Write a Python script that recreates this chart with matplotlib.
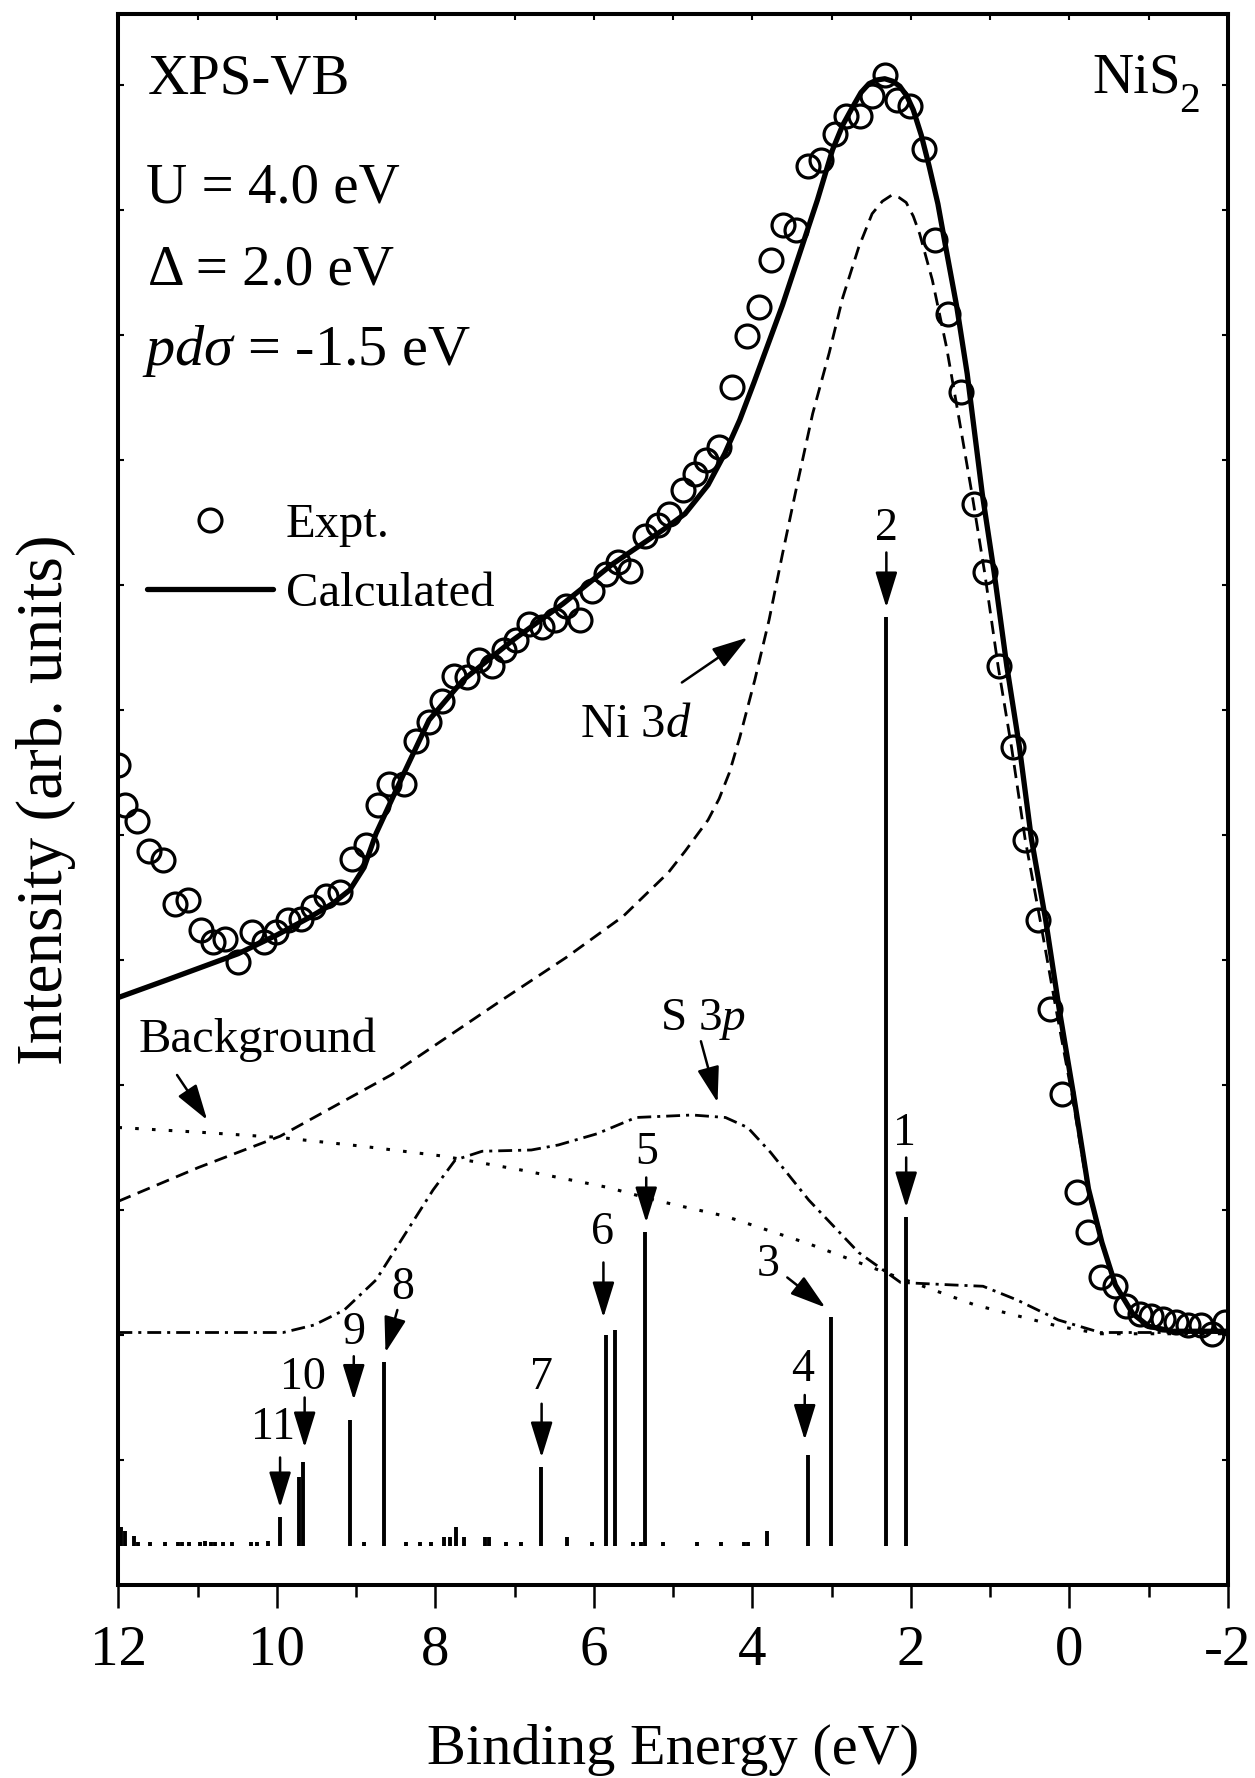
import matplotlib
matplotlib.use("Agg")
import matplotlib.pyplot as plt

plt.rcParams.update({
    "font.family": ["Liberation Serif", "DejaVu Serif"],
    "mathtext.fontset": "custom",
    "mathtext.rm": "Liberation Serif",
    "mathtext.it": "Liberation Serif:italic",
    "mathtext.bf": "Liberation Serif:bold",
    "axes.unicode_minus": False,
    "lines.scale_dashes": False,
})

# ---------------- data ----------------
# measured XPS valence-band spectrum (binding energy in eV, intensity in arb. units)
expt_energy = [12.01, 11.92, 11.76, 11.61, 11.44, 11.29, 11.12, 10.96, 10.81, 10.65,
               10.49, 10.32, 10.16, 10.01, 9.86, 9.69, 9.55, 9.38, 9.21, 9.05,
               8.88, 8.72, 8.58, 8.40, 8.25, 8.08, 7.92, 7.76, 7.60, 7.45,
               7.28, 7.13, 6.98, 6.82, 6.65, 6.49, 6.35, 6.17, 6.02, 5.85,
               5.70, 5.55, 5.36, 5.19, 5.05, 4.87, 4.73, 4.59, 4.42, 4.26,
               4.07, 3.92, 3.76, 3.62, 3.45, 3.30, 3.13, 2.96, 2.82, 2.64,
               2.49, 2.33, 2.17, 2.01, 1.84, 1.69, 1.53, 1.37, 1.21, 1.06,
               0.89, 0.71, 0.56, 0.40, 0.24, 0.09, -0.09, -0.23, -0.40, -0.57,
               -0.72, -0.89, -1.03, -1.18, -1.35, -1.49, -1.66, -1.80, -1.96]
expt_intensity = [6.56, 6.24, 6.11, 5.87, 5.80, 5.45, 5.48, 5.24, 5.14, 5.17,
                  4.98, 5.22, 5.14, 5.22, 5.32, 5.33, 5.42, 5.51, 5.54, 5.81,
                  5.92, 6.24, 6.41, 6.41, 6.75, 6.90, 7.07, 7.27, 7.26, 7.40,
                  7.35, 7.48, 7.56, 7.69, 7.66, 7.72, 7.83, 7.72, 7.95, 8.09,
                  8.18, 8.11, 8.39, 8.48, 8.57, 8.76, 8.89, 9.00, 9.10, 9.58,
                  9.99, 10.22, 10.60, 10.88, 10.84, 11.35, 11.40, 11.61, 11.75, 11.75,
                  11.91, 12.08, 11.88, 11.83, 11.49, 10.76, 10.17, 9.54, 8.65, 8.10,
                  7.35, 6.70, 5.96, 5.32, 4.61, 3.93, 3.14, 2.82, 2.46, 2.39,
                  2.23, 2.17, 2.15, 2.13, 2.10, 2.08, 2.08, 2.01, 2.10]

# calculated total spectrum
calc_energy = [12.00, 11.39, 10.49, 10.00, 9.59, 9.30, 9.08, 8.90, 8.75, 8.40,
               8.08, 7.65, 7.02, 6.39, 5.76, 5.13, 4.85, 4.56, 4.35, 4.16,
               3.98, 3.87, 3.62, 3.40, 3.18, 2.99, 2.86, 2.73, 2.63, 2.53,
               2.43, 2.33, 2.23, 2.14, 2.05, 1.97, 1.87, 1.77, 1.66, 1.56,
               1.42, 1.29, 1.10, 0.95, 0.79, 0.63, 0.48, 0.30, 0.13, -0.05,
               -0.24, -0.41, -0.58, -0.80, -1.00, -1.30, -2.00]
calc_intensity = [4.70, 4.84, 5.05, 5.20, 5.34, 5.45, 5.56, 5.74, 6.01, 6.49,
                  6.92, 7.24, 7.56, 7.85, 8.17, 8.44, 8.57, 8.80, 9.05, 9.32,
                  9.62, 9.81, 10.24, 10.66, 11.08, 11.48, 11.68, 11.83, 11.94, 12.01,
                  12.04, 12.05, 12.03, 11.99, 11.91, 11.80, 11.60, 11.35, 11.05, 10.70,
                  10.22, 9.69, 8.73, 8.10, 7.35, 6.70, 5.97, 5.32, 4.61, 3.93,
                  3.17, 2.74, 2.40, 2.17, 2.07, 2.03, 2.03]

# Ni 3d partial spectrum
ni3d_energy = [12.00, 10.99, 9.96, 8.56, 7.16, 6.35, 5.63, 5.06, 4.85, 4.56,
               4.42, 4.29, 4.16, 3.97, 3.79, 3.62, 3.44, 3.24, 3.03, 2.86,
               2.66, 2.49, 2.36, 2.24, 2.15, 2.06, 1.97, 1.89, 1.73, 1.55,
               1.39, 1.23, 1.07, 0.90, 0.73, 0.56, 0.37, 0.17, -0.03, -0.23,
               -0.40, -0.58, -0.80, -1.00, -1.30, -2.00]
ni3d_intensity = [3.07, 3.34, 3.59, 4.08, 4.68, 5.02, 5.35, 5.70, 5.87, 6.12,
                  6.29, 6.50, 6.78, 7.24, 7.72, 8.25, 8.79, 9.37, 9.86, 10.30,
                  10.70, 10.97, 11.07, 11.12, 11.10, 11.06, 10.95, 10.81, 10.44, 9.90,
                  9.32, 8.73, 8.10, 7.35, 6.70, 5.97, 5.32, 4.61, 3.93, 3.17,
                  2.74, 2.40, 2.17, 2.07, 2.03, 2.02]

# S 3p partial spectrum
s3p_energy = [12.00, 9.92, 9.53, 9.15, 8.75, 8.38, 8.03, 7.75, 7.41, 6.79,
              6.45, 5.96, 5.47, 4.76, 4.34, 4.06, 3.77, 3.29, 2.66, 2.13,
              1.46, 1.09, 0.66, 0.14, -0.39, -2.00]
s3p_intensity = [2.02, 2.02, 2.08, 2.20, 2.44, 2.81, 3.16, 3.40, 3.47, 3.48,
                 3.52, 3.61, 3.74, 3.76, 3.74, 3.66, 3.46, 3.08, 2.66, 2.42,
                 2.40, 2.39, 2.28, 2.12, 2.02, 2.02]

# inelastic background
bg_energy = [12.00, 10.92, 9.96, 8.92, 7.89, 6.92, 5.82, 5.24, 4.34, 3.29,
             2.24, 1.19, 0.14, -0.39, -2.00]
bg_intensity = [3.66, 3.62, 3.58, 3.51, 3.43, 3.32, 3.18, 3.08, 2.95, 2.73,
                2.48, 2.24, 2.07, 2.01, 2.01]

# final-state line spectrum (energy, weight above the stick baseline)
stick_energy = [2.06, 2.32, 3.01, 3.30, 5.36, 5.85, 5.73, 6.67, 8.65, 9.08,
                9.72, 9.67, 9.96,
                11.97, 11.92, 11.80, 11.75, 11.60, 11.41, 11.25, 11.20, 11.11, 10.97,
                10.91, 10.83, 10.78, 10.68, 10.57, 10.33, 10.25, 10.11, 8.90, 8.37,
                8.20, 8.06, 7.89, 7.82, 7.74, 7.64, 7.37, 7.33, 7.11, 6.92,
                6.34, 6.03, 5.51, 5.40, 5.13, 4.70, 4.40, 4.11, 4.06, 3.81]
stick_weight = [2.63, 7.43, 1.83, 0.73, 2.51, 1.69, 1.73, 0.63, 1.47, 1.01,
                0.55, 0.67, 0.23,
                0.15, 0.12, 0.08, 0.03, 0.03, 0.03, 0.03, 0.03, 0.03, 0.03,
                0.04, 0.03, 0.03, 0.03, 0.03, 0.03, 0.03, 0.04, 0.03, 0.03,
                0.03, 0.03, 0.07, 0.07, 0.15, 0.07, 0.07, 0.07, 0.03, 0.03,
                0.07, 0.03, 0.03, 0.03, 0.03, 0.03, 0.03, 0.03, 0.03, 0.12]
stick_base = 0.31

# numbered final states: label, arrow tip (E, I), arrow tail (E, I), label centre (E, I)
state_labels = ["1", "2", "3", "4", "5", "6", "7", "8", "9", "10", "11"]
state_tip = [(2.06, 3.02), (2.31, 7.82), (3.08, 2.22), (3.34, 1.16), (5.34, 2.90),
             (5.88, 2.14), (6.66, 1.02), (8.63, 1.86), (9.03, 1.48), (9.65, 1.10),
             (9.96, 0.62)]
state_tail = [(2.06, 3.42), (2.31, 8.26), (3.56, 2.46), (3.34, 1.52), (5.34, 3.26),
              (5.88, 2.58), (6.66, 1.45), (8.48, 2.20), (9.03, 1.83), (9.65, 1.50),
              (9.96, 1.02)]
state_text = [(2.08, 3.61), (2.31, 8.45), (3.80, 2.56), (3.37, 1.72), (5.34, 3.46),
              (5.89, 2.82), (6.66, 1.66), (8.41, 2.38), (9.03, 2.02), (9.67, 1.66),
              (10.05, 1.26)]

x_ticks = [12, 10, 8, 6, 4, 2, 0, -2]

# ---------------- figure ----------------
fig = plt.figure(figsize=(12.55, 17.78), dpi=100)
ax = fig.add_axes([0.09434, 0.10855, 0.88410, 0.88358])

calc_line, = ax.plot(calc_energy, calc_intensity, color="k", lw=3.8,
                     solid_capstyle="round", solid_joinstyle="round", zorder=4)
ax.plot(ni3d_energy, ni3d_intensity, color="k", lw=2.0, dashes=(9.5, 5.5), zorder=3)
ax.plot(s3p_energy, s3p_intensity, color="k", lw=2.0, dashes=(10, 4.3, 2.2, 4.3), zorder=3)
ax.plot(bg_energy, bg_intensity, color="k", lw=2.2, dashes=(2.6, 9.5), zorder=3)
expt_pts, = ax.plot(expt_energy, expt_intensity, "o", mfc="none", mec="k", ms=16.5,
                    mew=2.3, zorder=5)

ax.vlines(stick_energy, stick_base, [stick_base + w for w in stick_weight],
          colors="k", lw=2.8, capstyle="butt", zorder=3)

arrow_kw = dict(arrowstyle="-|>,head_length=0.55,head_width=0.17", mutation_scale=40,
                lw=1.8, color="k", shrinkA=0, shrinkB=0)

for lab, tip, tail, pos in zip(state_labels, state_tip, state_tail, state_text):
    ax.annotate("", xy=tip, xytext=tail, arrowprops=arrow_kw)
    ax.text(pos[0], pos[1], lab, fontsize=33, ha="center", va="center")

# component labels
ax.annotate("", xy=(4.06, 7.58), xytext=(4.89, 7.22), arrowprops=arrow_kw)
ax.text(6.18, 6.78, r"Ni 3$d$", fontsize=35, ha="left", va="baseline")
ax.annotate("", xy=(4.44, 3.86), xytext=(4.65, 4.35), arrowprops=arrow_kw)
ax.text(5.16, 4.44, r"S 3$p$", fontsize=34, ha="left", va="baseline")
ax.annotate("", xy=(10.88, 3.72), xytext=(11.26, 4.08), arrowprops=arrow_kw)
ax.text(11.75, 4.26, "Background", fontsize=35, ha="left", va="baseline")

# model parameters
ax.text(0.0265, 0.9497, "XPS-VB", transform=ax.transAxes, fontsize=41, va="baseline")
ax.text(0.0250, 0.8797, "U = 4.0 eV", transform=ax.transAxes, fontsize=41, va="baseline")
ax.text(0.0265, 0.8275, "\u0394 = 2.0 eV", transform=ax.transAxes, fontsize=41, va="baseline")
ax.text(0.0215, 0.7766, r"$pd\sigma$ = -1.5 eV", transform=ax.transAxes, fontsize=42,
        va="baseline")
ax.text(0.878, 0.9500, "NiS", transform=ax.transAxes, fontsize=41, va="baseline")
ax.text(0.9560, 0.9376, "2", transform=ax.transAxes, fontsize=30, va="baseline")

leg = ax.legend([expt_pts, calc_line], ["Expt.", "Calculated"],
                loc="upper left", bbox_to_anchor=(0.0258, 0.689), frameon=False,
                fontsize=35, handlelength=2.6, handletextpad=0.25, labelspacing=0.53,
                borderpad=0, borderaxespad=0, numpoints=1)

# axes
ax.set_xlim(12, -2)
ax.set_ylim(0, 12.568)
ax.set_xticks(x_ticks)
ax.set_xticklabels([str(t) for t in x_ticks])
ax.set_xticks(range(-2, 13), minor=True)
ax.set_yticks(range(0, 13))
ax.set_yticklabels([])
ax.tick_params(axis="x", which="major", direction="out", length=16.5, width=1.8,
               labelsize=41, pad=12, top=False)
ax.tick_params(axis="x", which="minor", direction="out", length=8.6, width=1.8, top=False)
ax.tick_params(axis="y", which="major", direction="in", length=4, width=1.5,
               left=True, right=True)
for sp in ax.spines.values():
    sp.set_linewidth(2.9)

top = ax.secondary_xaxis("top")
top.set_xticks(range(-2, 13))
top.tick_params(direction="in", length=4, width=1.5, labeltop=False)
top.spines["top"].set_linewidth(2.9)

ax.set_xlabel("Binding Energy (eV)", fontsize=42, labelpad=34)
ax.set_ylabel("Intensity (arb. units)", fontsize=47, labelpad=27)

fig.savefig("out.png", dpi=100)
